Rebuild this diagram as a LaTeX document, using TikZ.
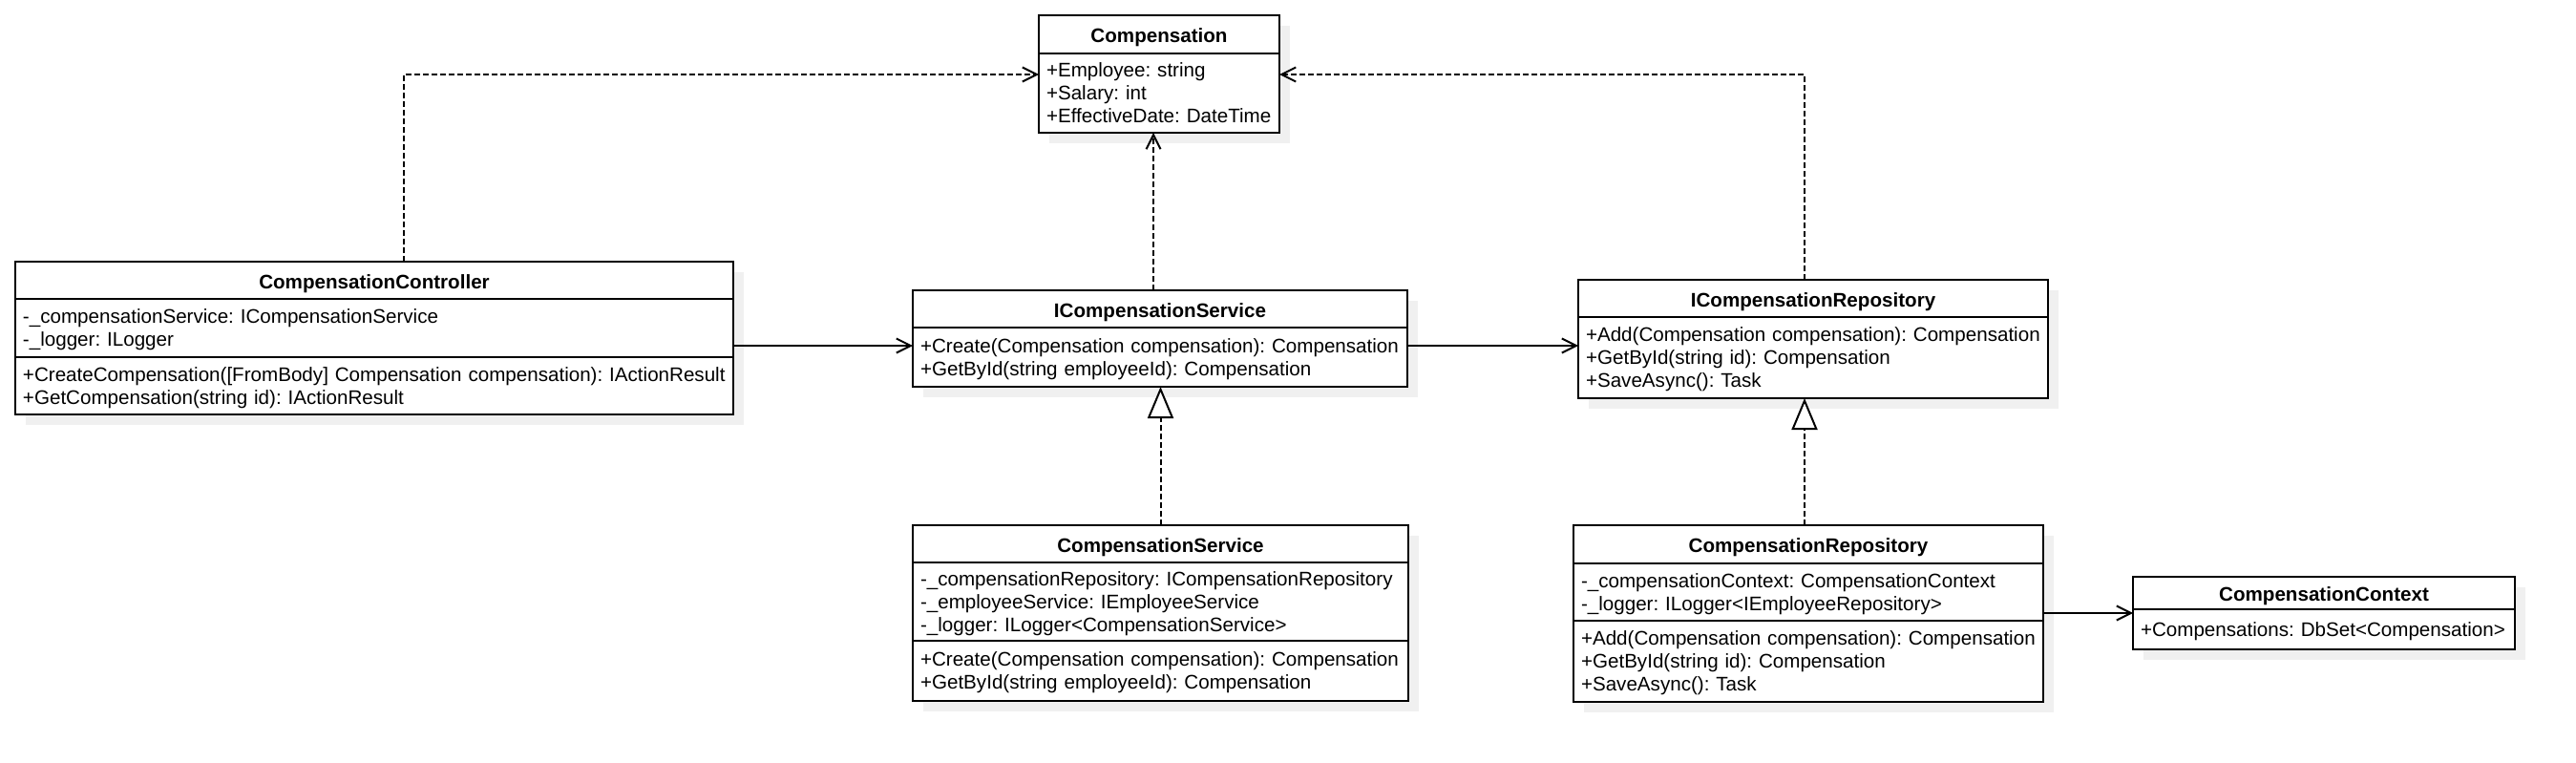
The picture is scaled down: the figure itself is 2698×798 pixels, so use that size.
\documentclass[tikz,border=0pt]{standalone}
\usepackage{fontspec}
\setmainfont{Liberation Sans}
\usetikzlibrary{positioning,arrows.meta,shadows}
\frenchspacing

% one compartment, one row per member, no line breaking
\newcommand{\members}[1]{\begin{tabular}{@{}l@{}}\rule{0pt}{10.8pt}#1\end{tabular}}

\tikzset{
  umlbox/.style={draw, fill=white, line width=1pt, outer sep=0pt,
    inner xsep=4pt, inner ysep=0pt,
    font=\fontsize{10.3pt}{12pt}\selectfont,
    drop shadow={shadow xshift=5.5pt, shadow yshift=-5.5pt, fill=black!6, opacity=1, draw=none}},
  umlname/.style={umlbox, text width=#1, align=center, minimum height=19.5pt,
    text height=8.5pt, text depth=0pt,
    font=\fontsize{10.3pt}{12pt}\selectfont\bfseries},
  umlpart/.style={umlbox, text width=#1, align=left},
  assoc/.style={line width=1pt, -{Straight Barb[length=7.5pt, width=7.5pt]}},
  dep/.style={assoc, dash pattern=on 3pt off 1.5pt},
  realize/.style={line width=1pt, dash pattern=on 3pt off 1.5pt,
    -{Triangle[open, length=16.5pt, width=13.5pt, fill=white]}}
}

\begin{document}
\begin{tikzpicture}[x=0.5pt, y=-0.5pt]
  \useasboundingbox (0,0) rectangle (2698,798);

  % Compensation
  \node[umlname=118pt, minimum height=20pt, anchor=north west] (comp-name) at (1088,16) {Compensation};
  \node[umlpart=118pt, minimum height=41.5pt, below=0pt of comp-name] (comp-attr)
    {\members{+Employee: string\\+Salary: int\\+EffectiveDate: DateTime}};

  % CompensationController
  \node[umlname=368pt, anchor=north west] (ctrl-name) at (16,274) {CompensationController};
  \node[umlpart=368pt, minimum height=30.5pt, below=0pt of ctrl-name] (ctrl-attr)
    {\members{-\_compensationService: ICompensationService\\-\_logger: ILogger}};
  \node[umlpart=368pt, minimum height=30pt, below=0pt of ctrl-attr] (ctrl-mth)
    {\members{+CreateCompensation([FromBody] Compensation compensation): IActionResult\\+GetCompensation(string id): IActionResult}};

  % ICompensationService
  \node[umlname=251pt, anchor=north west] (icsvc-name) at (956,304) {ICompensationService};
  \node[umlpart=251pt, minimum height=31pt, below=0pt of icsvc-name] (icsvc-mth)
    {\members{+Create(Compensation compensation): Compensation\\+GetById(string employeeId): Compensation}};

  % ICompensationRepository
  \node[umlname=238pt, anchor=north west] (irepo-name) at (1653,293) {ICompensationRepository};
  \node[umlpart=238pt, minimum height=42.5pt, below=0pt of irepo-name] (irepo-mth)
    {\members{+Add(Compensation compensation): Compensation\\+GetById(string id): Compensation\\+SaveAsync(): Task}};

  % CompensationService
  \node[umlname=251.5pt, anchor=north west] (csvc-name) at (956,550) {CompensationService};
  \node[umlpart=251.5pt, minimum height=41pt, below=0pt of csvc-name] (csvc-attr)
    {\members{-\_compensationRepository: ICompensationRepository\\-\_employeeService: IEmployeeService\\-\_logger: ILogger<CompensationService>}};
  \node[umlpart=251.5pt, minimum height=31.5pt, below=0pt of csvc-attr] (csvc-mth)
    {\members{+Create(Compensation compensation): Compensation\\+GetById(string employeeId): Compensation}};

  % CompensationRepository
  \node[umlname=238pt, minimum height=20pt, anchor=north west] (crepo-name) at (1648,550) {CompensationRepository};
  \node[umlpart=238pt, minimum height=30pt, below=0pt of crepo-name] (crepo-attr)
    {\members{-\_compensationContext: CompensationContext\\-\_logger: ILogger<IEmployeeRepository>}};
  \node[umlpart=238pt, minimum height=42.5pt, below=0pt of crepo-attr] (crepo-mth)
    {\members{+Add(Compensation compensation): Compensation\\+GetById(string id): Compensation\\+SaveAsync(): Task}};

  % CompensationContext
  \node[umlname=192pt, minimum height=17pt, anchor=north west] (cctx-name) at (2234,604) {CompensationContext};
  \node[umlpart=192pt, minimum height=21pt, below=0pt of cctx-name] (cctx-attr)
    {\members{+Compensations: DbSet<Compensation>}};

  % associations
  \coordinate (c1) at ([yshift=6pt]icsvc-mth.west);
  \draw[assoc] (ctrl-attr.east |- c1) -- (c1);
  \coordinate (c2) at ([yshift=6pt]icsvc-mth.east);
  \draw[assoc] (c2) -- (c2 -| irepo-mth.west);
  \coordinate (c3) at ([yshift=-2pt]cctx-attr.north west);
  \draw[assoc] (crepo-attr.east |- c3) -- (c3);

  % dependencies
  \draw[dep] ([xshift=15.5pt]ctrl-name.north) |- ([yshift=9.75pt]comp-attr.west);
  \draw[dep] ([xshift=-4.5pt]irepo-name.north) |- ([yshift=9.75pt]comp-attr.east);
  \draw[dep] ([xshift=-3.5pt]icsvc-name.north) -- ([xshift=-3.5pt]icsvc-name.north |- comp-attr.south);

  % realizations
  \draw[realize] (csvc-name.north) -- (csvc-name.north |- icsvc-mth.south);
  \draw[realize] ([xshift=-2pt]crepo-name.north) -- ([xshift=-2pt]crepo-name.north |- irepo-mth.south);
\end{tikzpicture}
\end{document}
